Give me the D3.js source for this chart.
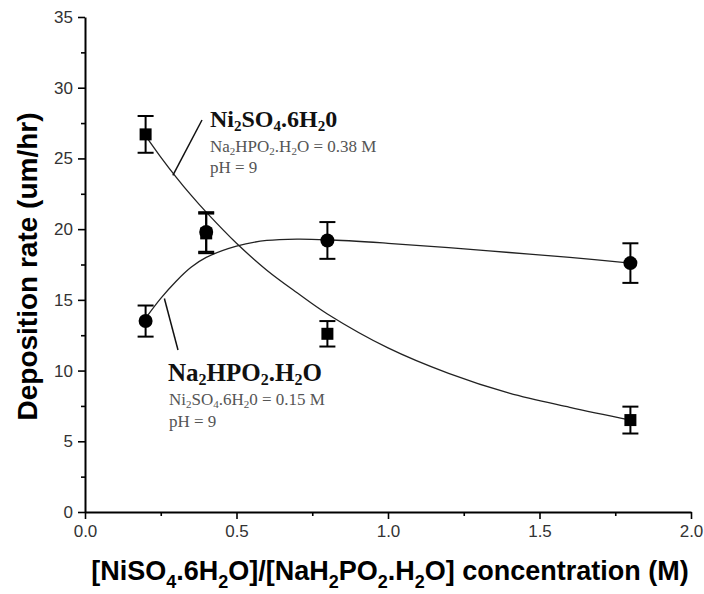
<!DOCTYPE html>
<html><head><meta charset="utf-8">
<script src="https://cdn.jsdelivr.net/npm/d3@7"></script>
<style>body{margin:0;background:#fff}svg{display:block}</style>
</head><body>
<svg id="c" width="704" height="594"></svg>
<script>
// ---- data ----
const xVals = [0.2, 0.4, 0.8, 1.8];
const niSO4 = [26.7, 19.7, 12.6, 6.5];      // squares
const niSO4Err = [1.3, 1.4, 0.9, 0.95];
const naHPO2 = [13.5, 19.8, 19.2, 17.6];    // circles
const naHPO2Err = [1.1, 1.4, 1.3, 1.4];
// fitted curves
const fitX = [0.2, 0.25, 0.3, 0.35, 0.4, 0.5, 0.6, 0.7, 0.8, 1.0, 1.2, 1.4, 1.6, 1.8];
const fitNiSO4 = [26.6, 25.1, 23.7, 22.4, 21.2, 19.0, 17.1, 15.5, 14.0, 11.6, 9.8, 8.4, 7.4, 6.5];
const fitNaHPO2 = [13.7, 15.1, 16.3, 17.3, 18.0, 18.8, 19.2, 19.3, 19.25, 19.0, 18.7, 18.35, 18.0, 17.6];
const xTicks = [0, 0.5, 1.0, 1.5, 2.0];
const yTicks = [0, 5, 10, 15, 20, 25, 30, 35];

const svg = d3.select("#c");
const L = 85, R = 691, T = 17, B = 512;
const x = d3.scaleLinear().domain([0, 2]).range([L, R]);
const y = d3.scaleLinear().domain([0, 35]).range([B, T]);

const sans = "Liberation Sans, Arial, sans-serif";
const serif = "Liberation Serif, Times New Roman, serif";

// axes
const xAxis = d3.axisBottom(x).tickValues(xTicks).tickFormat(d3.format(".1f")).tickSize(7).tickSizeOuter(0).tickPadding(6);
const xMinor = d3.axisBottom(x).tickValues([0.25, 0.75, 1.25, 1.75]).tickFormat("").tickSize(4);
const yAxis = d3.axisLeft(y).tickValues(yTicks).tickFormat(d3.format("d")).tickSize(7).tickSizeOuter(0).tickPadding(5);
const yMinor = d3.axisLeft(y).tickValues([2.5, 7.5, 12.5, 17.5, 22.5, 27.5, 32.5]).tickFormat("").tickSize(4);

function style(g) {
  g.select(".domain").attr("stroke", "#000").attr("stroke-width", 2);
  g.selectAll(".tick line").attr("stroke", "#000").attr("stroke-width", 1.6);
  g.selectAll(".tick text").attr("font-family", sans).attr("font-size", 17).attr("fill", "#333");
}
svg.append("g").attr("transform", `translate(0,${B})`).call(xMinor).call(style).select(".domain").remove();
svg.append("g").attr("transform", `translate(0,${B})`).call(xAxis).call(style);
svg.append("g").attr("transform", `translate(${L},0)`).call(yMinor).call(style).select(".domain").remove();
svg.append("g").attr("transform", `translate(${L},0)`).call(yAxis).call(style);

// curves
const line = (vals) => d3.line().x((d, i) => x(fitX[i])).y(d => y(d)).curve(d3.curveCatmullRom)(vals);
svg.append("path").attr("d", line(fitNiSO4)).attr("fill", "none").attr("stroke", "#222").attr("stroke-width", 1.3);
svg.append("path").attr("d", line(fitNaHPO2)).attr("fill", "none").attr("stroke", "#222").attr("stroke-width", 1.3);

// error bars
function errBars(vals, errs) {
  const g = svg.append("g").attr("stroke", "#000").attr("stroke-width", 2);
  vals.forEach((v, i) => {
    const cx = x(xVals[i]);
    g.append("line").attr("x1", cx).attr("x2", cx).attr("y1", y(v + errs[i])).attr("y2", y(v - errs[i]));
    g.append("line").attr("x1", cx - 8).attr("x2", cx + 8).attr("y1", y(v + errs[i])).attr("y2", y(v + errs[i]));
    g.append("line").attr("x1", cx - 8).attr("x2", cx + 8).attr("y1", y(v - errs[i])).attr("y2", y(v - errs[i]));
  });
}
errBars(niSO4, niSO4Err);
errBars(naHPO2, naHPO2Err);

// markers
svg.append("g").selectAll("circle").data(naHPO2).join("circle")
  .attr("cx", (d, i) => x(xVals[i])).attr("cy", d => y(d)).attr("r", 7).attr("fill", "#000");
svg.append("g").selectAll("rect").data(niSO4).join("rect")
  .attr("x", (d, i) => x(xVals[i]) - 6).attr("y", d => y(d) - 6).attr("width", 12).attr("height", 12).attr("fill", "#000");

// rich text with subscripts: "_X" marks a subscript char
function chemText(parent, str, size, subSize, sub, attrs) {
  const t = parent.append("text");
  Object.entries(attrs).forEach(([k, v]) => t.attr(k, v));
  t.attr("font-size", size);
  let buf = "", pendingUp = 0;
  const flush = () => {
    if (buf) { t.append("tspan").attr("dy", pendingUp ? -pendingUp : null).text(buf); pendingUp = 0; buf = ""; }
  };
  for (let i = 0; i < str.length; i++) {
    if (str[i] === "_") {
      flush();
      t.append("tspan").attr("font-size", subSize).attr("dy", pendingUp ? 0 : sub).text(str[i + 1]);
      pendingUp = sub;
      i++;
    } else buf += str[i];
  }
  flush();
  return t;
}
const ann = svg.append("g");
// upper annotation
chemText(ann, "Ni_2SO_4.6H_20", 24, 15, 4, { x: 210, y: 127, "font-family": serif, "font-weight": "bold", fill: "#111" });
chemText(ann, "Na_2HPO_2.H_2O = 0.38 M", 17, 11, 3, { x: 210, y: 152, "font-family": serif, fill: "#555" });
ann.append("text").attr("x", 210).attr("y", 173).attr("font-family", serif).attr("font-size", 17).attr("fill", "#555").text("pH = 9");
// lower annotation
chemText(ann, "Na_2HPO_2.H_2O", 25, 16, 4, { x: 168, y: 381, "font-family": serif, "font-weight": "bold", fill: "#111" });
chemText(ann, "Ni_2SO_4.6H_20 = 0.15 M", 17, 11, 3, { x: 169, y: 405, "font-family": serif, fill: "#555" });
ann.append("text").attr("x", 169).attr("y", 427).attr("font-family", serif).attr("font-size", 17).attr("fill", "#555").text("pH = 9");

// leader lines
svg.append("line").attr("x1", x(0.29)).attr("y1", y(23.8)).attr("x2", 202).attr("y2", 120).attr("stroke", "#111").attr("stroke-width", 1.5);
svg.append("line").attr("x1", x(0.262)).attr("y1", y(15.1)).attr("x2", 178).attr("y2", 350).attr("stroke", "#111").attr("stroke-width", 1.5);

// axis titles
svg.append("text").attr("transform", `translate(37,${(T + B) / 2 + 2}) rotate(-90)`).attr("text-anchor", "middle")
  .attr("font-family", sans).attr("font-size", 28).attr("font-weight", "bold").text("Deposition rate (um/hr)");
chemText(svg, "[NiSO_4.6H_2O]/[NaH_2PO_2.H_2O] concentration (M)", 27, 18, 8,
  { x: 390, y: 580, "text-anchor": "middle", "font-family": sans, "font-weight": "bold", fill: "#000" });
</script>
</body></html>
